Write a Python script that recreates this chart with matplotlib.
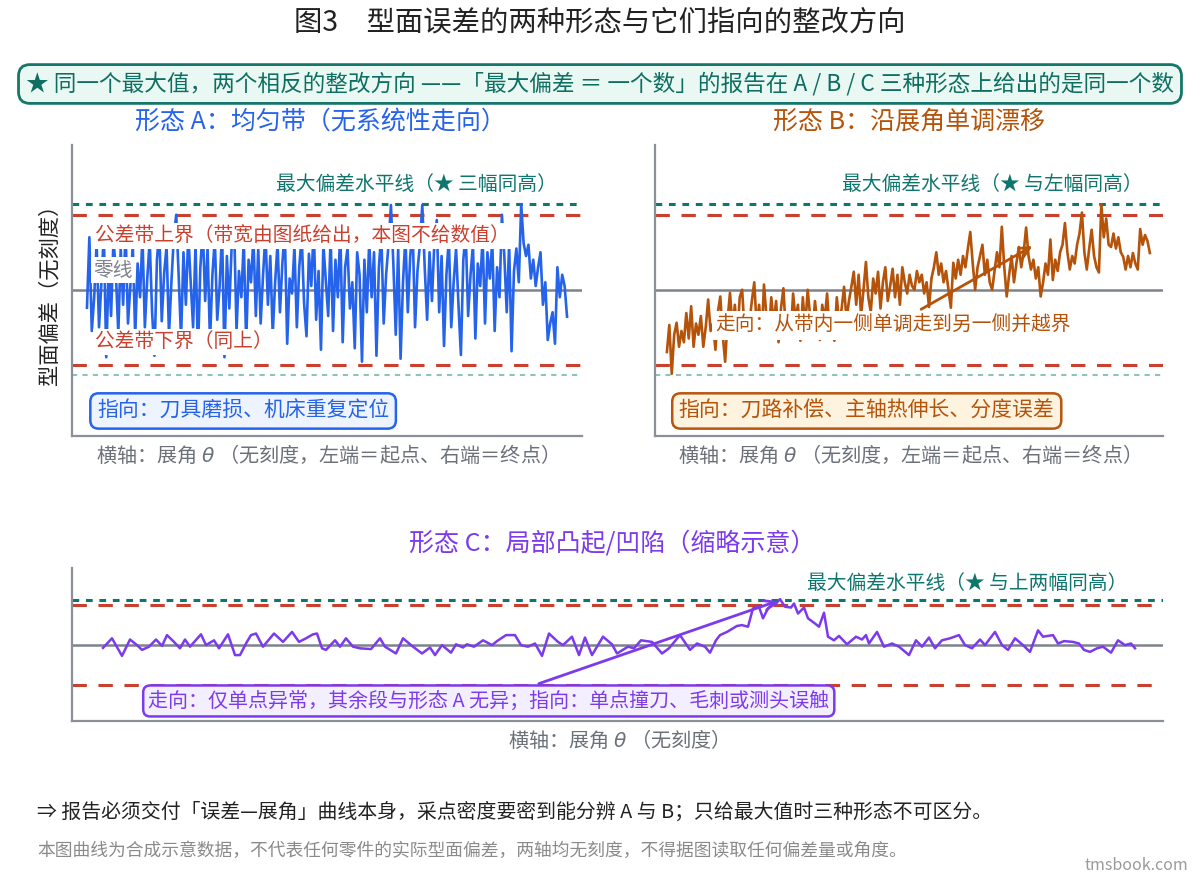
import matplotlib
matplotlib.use("Agg")
import matplotlib.pyplot as plt

plt.rcParams['font.family'] = ['Noto Sans CJK SC', 'DejaVu Sans']
plt.rcParams['mathtext.fontset'] = 'dejavusans'

# ---------------- data (tolerance half-width = 1) ----------------
TOL = 1.0
MAX_DEV = 1.14

form_a = [
    -0.24, 0.7, -0.55, -0.1, 0.62, -0.5, 0.1, 0.75, -0.9, 0.3,
    -0.35, 0.68, 0.2, -0.58, 0.55, -0.2, 0.8, -0.45, 0.05, 0.6,
    -0.62, 0.35, -0.1, 0.72, -0.5, 0.15, 0.66, -0.3, -0.88, 0.4,
    0.78, -0.42, 0.22, 0.58, -0.6, 0.1, 0.7,
    1.0,
    0.2, -0.65, 0.5, -0.2, 0.74, 0.1, -0.5, 0.6, -0.85, 0.3,
    0.82, -0.15, 0.55, -0.7, 0.2, 0.68, -0.4, 0.05, 0.77, -0.9,
    0.45, -0.25, 0.6, 0.85, -0.55, 0.25, -0.1, 0.66, -0.72, 0.4,
    0.1, 0.7, -0.35,
    0.55, -0.45, 0.2, 0.75, -0.2, 0.45, -0.6, 0.1, 0.62, -0.3,
    0.35, 0.8, -0.72, 0.15, -0.05, 0.58, -0.5, 0.3, 0.72, -0.18,
    -0.62, 0.48, 0.05, 0.85, -0.4, 0.25, -0.8, 0.6, 0.12, -0.35,
    0.7, -0.55, 0.4, -0.1, 0.8, -0.7, 0.3, 0.55, -0.25, 0.1,
    -0.78, 0.5,
    0.2, -0.96, 0.4, -0.3, 0.65, -0.1, 0.5, -0.88, 0.3, 0.75,
    -0.45, 0.2, 0.6, 1.13, 0.35, -0.6, 0.55, -0.92, 0.1, 0.7,
    -0.3, 0.45, 0.8, -0.5, 0.25, 0.6, 1.13, 0.3,
    -0.4, 0.5, -0.15, 0.62, 0.93, -0.3, 0.45, -0.75, 0.2, 0.68,
    -0.5, 0.1, 0.55, -0.2, -0.87, 0.4, 0.75, -0.35, 0.2, 0.6,
    -0.65, 0.35, 0.05, 0.7, -0.45, 0.5, 0.15, 0.65, -0.55, 0.3,
    -0.1, 1.0, 0.45, -0.3, 0.6, -0.82, 0.25, 0.55, 0.1, 1.14,
    0.62, 0.45, 0.6, 0.15, 0.4, 0.05, 0.3, 0.5, -0.2, 0.1,
    -0.67, -0.45, -0.3, -0.72, 0.3, -0.1, 0.2, 0.05, -0.36,
]

form_b = [
    -0.83, -0.47, -1.12, -0.6, -0.44, -0.76, -0.55, -0.7, -0.31, -0.65,
    -0.22, -0.76, -0.45, -0.6, -0.35, -0.76, -0.5, -0.13, -0.55,
    -0.45, -0.8, -0.3, -0.09, -0.6, -0.96, -0.4, -0.04, -0.5, -0.2,
    -0.65, -0.1, 0.0, -0.55, -0.3, -0.45, -0.15,
    0.1, -0.5, -0.2, -0.65, 0.07, -0.35, -0.6, -0.1, -0.45, -0.15,
    -0.7, -0.25, 0.02, -0.55, -0.3, -0.62, -0.05, -0.4, -0.2, -0.68,
    -0.1, -0.5, 0.0, -0.35, -0.6, -0.15, -0.45, -0.67, -0.2, -0.4,
    -0.05, -0.55, -0.3, -0.68, -0.1, -0.45, -0.25, 0.04, -0.4, -0.15,
    0.04, 0.24, -0.2, 0.2, -0.35, 0.0, 0.37, -0.1, -0.3, 0.15,
    -0.05, 0.24, -0.25, 0.1, 0.3, -0.15, 0.05, 0.28, -0.1, 0.2, -0.2,
    0.3, 0.1, -0.05, 0.2, 0.05, 0.0, 0.25, 0.1, 0.2, -0.05,
    0.1, -0.23, 0.15, 0.3, 0.5, 0.2, 0.35, 0.1, 0.25, 0.0,
    -0.24, 0.36, 0.15, 0.4, 0.2, 0.45, 0.3, 0.55, 0.77, 0.35,
    0.0, 0.3, 0.45, 0.6, 0.2, 0.4, 0.1, 0.0, 0.25, 0.5, 0.3,
    0.84, 0.3, -0.09, 0.2, 0.45, 0.1, 0.35, 0.57, 0.3, 0.5,
    0.83, 0.45, 0.27, 0.4, 0.15, 0.3, -0.09, 0.1, 0.35, 0.2,
    0.67, 0.13, 0.4, 0.25, 0.5, 0.6, 0.89, 0.5, 0.27, 0.45,
    0.35, 0.6, 0.75, 1.03, 0.5, 0.27, 0.55, 0.8, 0.45, 0.3,
    0.23, 1.14, 0.7, 0.95, 0.6, 0.57, 0.75, 0.55, 0.7, 0.5,
    0.44, 0.27, 0.45, 0.3, 0.49, 0.35, 0.27, 0.81, 0.6, 0.73,
    0.65, 0.49,
]

theta_c = [
    1, 10, 20, 28, 35, 40, 47, 54, 60, 65, 72, 78, 83, 88, 99, 104, 112, 117,
    126, 133, 138, 144, 149, 154, 161, 172, 181, 190, 197, 204, 211, 215, 220,
    224, 233, 238, 244, 251, 258, 269, 278, 283, 294, 301, 310, 320, 328, 333,
    340, 349, 354, 361, 365, 372, 381, 390, 395, 404, 413, 419, 426, 433, 440,
    447, 456, 461, 470, 477, 483, 490, 501, 510, 515, 526, 532, 539, 550, 560,
    567, 573, 578, 588, 595, 603, 608, 614, 618, 625, 635, 640, 646, 651, 657,
    661, 666, 674, 678, 683, 689, 692, 696, 702, 706, 713, 717, 722, 726, 732,
    737, 745, 754, 760, 764, 767, 775, 782, 790, 797, 807, 814, 820, 827, 833,
    840, 848, 857, 863, 870, 878, 883, 893, 900, 906, 913, 921, 928, 936, 941,
    951, 956, 962, 971, 977, 982, 988, 995, 1001, 1009, 1016, 1023, 1029, 1033,
]
form_c = [
    -0.07, 0.17, -0.27, 0.14, 0.0, -0.12, -0.04, 0.14, -0.02, 0.25, 0.08, -0.08,
    0.14, -0.04, 0.27, 0.0, 0.12, -0.08, 0.27, -0.25, -0.25, 0.04, 0.25, 0.29,
    -0.04, 0.29, 0.08, 0.33, 0.08, 0.17, 0.27, 0.29, -0.08, -0.12, 0.12, -0.04,
    0.17, -0.04, -0.08, -0.1, 0.17, -0.04, -0.21, 0.17, -0.02, -0.21, -0.06,
    -0.25, 0.0, -0.19, 0.02, -0.06, 0.02, -0.04, 0.12, 0.0, 0.1, 0.25, 0.25,
    0.0, -0.04, 0.04, -0.27, 0.29, 0.08, 0.0, 0.21, -0.25, 0.19, -0.25, 0.21,
    0.02, -0.21, -0.04, -0.08, 0.12, 0.08, -0.21, -0.08, 0.1, 0.25, -0.12,
    0.04, -0.04, -0.19, 0.12, 0.25, 0.33, 0.48, 0.5, 0.46, 0.92, 0.96, 0.67,
    0.92, 1.04, 1.15, 0.96, 0.94, 1.04, 0.79, 0.94, 0.67, 0.54, 0.46, 0.81,
    0.21, 0.12, 0.23, 0.02, 0.21, 0.14, 0.25, 0.04, 0.33, -0.04, 0.04, -0.04,
    -0.25, 0.12, -0.04, 0.19, -0.08, 0.12, 0.17, 0.25, 0.0, -0.08, 0.14, 0.0,
    0.33, 0.0, -0.12, 0.17, 0.0, -0.17, 0.37, 0.21, 0.25, 0.04, 0.1, 0.08,
    0.04, -0.12, -0.17, -0.08, -0.04, -0.19, 0.12, 0.0, 0.04, -0.08,
]

# annotation targets (data units)
B_ARROW_TARGET = (151.6, 0.60)
C_ARROW_TARGET = (678, 1.125)

# ---------------- texts ----------------
TITLE = '图3　型面误差的两种形态与它们指向的整改方向'
BANNER = '★ 同一个最大值，两个相反的整改方向 ——「最大偏差 ＝ 一个数」的报告在 A / B / C 三种形态上给出的是同一个数'
TITLE_A = '形态 A：均匀带（无系统性走向）'
TITLE_B = '形态 B：沿展角单调漂移'
TITLE_C = '形态 C：局部凸起/凹陷（缩略示意）'
MAXLBL_A = '最大偏差水平线（★ 三幅同高）'
MAXLBL_B = '最大偏差水平线（★ 与左幅同高）'
MAXLBL_C = '最大偏差水平线（★ 与上两幅同高）'
UPPER_LBL = '公差带上界（带宽由图纸给出，本图不给数值）'
LOWER_LBL = '公差带下界（同上）'
ZERO_LBL = '零线'
POINT_A = '指向：刀具磨损、机床重复定位'
POINT_B = '指向：刀路补偿、主轴热伸长、分度误差'
TREND_B = '走向：从带内一侧单调走到另一侧并越界'
NOTE_C = '走向：仅单点异常，其余段与形态 A 无异；指向：单点撞刀、毛刺或测头误触'
XLAB_AB = '横轴：展角 $\\theta$ （无刻度，左端＝起点、右端＝终点）'
XLAB_C = '横轴：展角 $\\theta$ （无刻度）'
YLAB = '型面偏差（无刻度）'
CONCLUSION = '⇒ 报告必须交付「误差—展角」曲线本身，采点密度要密到能分辨 A 与 B；只给最大值时三种形态不可区分。'
FOOTNOTE = '本图曲线为合成示意数据，不代表任何零件的实际型面偏差，两轴均无刻度，不得据图读取任何偏差量或角度。'
SOURCE = 'tmsbook.com'

# ---------------- colours ----------------
BLUE = '#2563eb'
ORANGE = '#b45309'
PURPLE = '#7c3aed'
TEAL = '#0f766e'
TEAL_LIGHT = '#8cc4bb'
RED = '#c9402f'
ZERO = '#7d828c'
SPINE = '#8a8f99'
GRAY_TXT = '#6b7079'

LBL_FS = 14.2

W, H = 1200, 880
fig = plt.figure(figsize=(W / 100, H / 100), dpi=100)
fig.patch.set_facecolor('white')


def px_axes(l, t, r, b):
    return fig.add_axes([l / W, 1 - b / H, (r - l) / W, (b - t) / H])


def style(ax, xlim, ylim):
    ax.set_xlim(*xlim)
    ax.set_ylim(*ylim)
    for s in ('top', 'right'):
        ax.spines[s].set_visible(False)
    for s in ('left', 'bottom'):
        ax.spines[s].set_color(SPINE)
        ax.spines[s].set_linewidth(1.6)
    ax.set_xticks([])
    ax.set_yticks([])
    ax.axhline(0, color=ZERO, lw=1.8, zorder=1)
    ax.axhline(TOL, color=RED, lw=2.2, ls=(0, (4.7, 3.8)), zorder=1)
    ax.axhline(-TOL, color=RED, lw=2.2, ls=(0, (4.7, 3.8)), zorder=1)
    ax.axhline(MAX_DEV, color=TEAL, lw=2.2, ls=(0, (2.2, 2.2)), zorder=1)


axA = px_axes(72, 145, 582, 436)
axB = px_axes(655, 145, 1163, 436)
axC = px_axes(72, 568, 1163, 721)

style(axA, (-6.2, len(form_a) - 1 + 6.2), (-1.95, 1.93))
style(axB, (-4.9, len(form_b) - 1 + 5.4), (-1.95, 1.93))
style(axC, (-30, 1061), (-1.9, 1.93))
for ax in (axA, axB):
    ax.axhline(-MAX_DEV, color=TEAL_LIGHT, lw=1.5, ls=(0, (2.5, 2.5)), zorder=1)

axA.plot(range(len(form_a)), form_a, color=BLUE, lw=1.9, zorder=3)
axB.plot(range(len(form_b)), form_b, color=ORANGE, lw=1.9, zorder=3)
axC.plot(theta_c, form_c, color=PURPLE, lw=1.8, zorder=3)

white_box = dict(boxstyle='square,pad=0.12', fc='white', ec='none')

# panel A labels
axA.text(0.95, 0.863, MAXLBL_A, transform=axA.transAxes, ha='right', va='center',
         color=TEAL, fontsize=LBL_FS, zorder=6)
axA.text(0.045, 0.687, UPPER_LBL, transform=axA.transAxes, ha='left', va='center',
         color=RED, fontsize=LBL_FS, bbox=white_box, zorder=6)
axA.text(0.041, 0.570, ZERO_LBL, transform=axA.transAxes, ha='left', va='center',
         color=ZERO, fontsize=LBL_FS, bbox=white_box, zorder=6)
axA.text(0.045, 0.323, LOWER_LBL, transform=axA.transAxes, ha='left', va='center',
         color=RED, fontsize=LBL_FS, bbox=white_box, zorder=6)
axA.text(0.049, 0.086, POINT_A, transform=axA.transAxes, ha='left', va='center',
         color=BLUE, fontsize=15, zorder=6,
         bbox=dict(boxstyle='round,pad=0.32,rounding_size=0.4', fc='#eef4ff', ec=BLUE, lw=1.8))

# panel B labels
axB.text(0.959, 0.863, MAXLBL_B, transform=axB.transAxes, ha='right', va='center',
         color=TEAL, fontsize=LBL_FS, zorder=6)
axB.annotate(TREND_B, xy=B_ARROW_TARGET, xycoords='data',
             xytext=(0.469, 0.381), textcoords='axes fraction',
             ha='center', va='center', color=ORANGE, fontsize=LBL_FS, zorder=6,
             bbox=dict(boxstyle='square,pad=0.2', fc='white', ec='none'),
             arrowprops=dict(arrowstyle='->', color=ORANGE, lw=2, mutation_scale=18))
axB.text(0.047, 0.086, POINT_B, transform=axB.transAxes, ha='left', va='center',
         color=ORANGE, fontsize=15, zorder=6,
         bbox=dict(boxstyle='round,pad=0.32,rounding_size=0.4', fc='#fdf3df', ec='#b8560f', lw=1.8))

# panel C labels
axC.text(0.967, 0.902, MAXLBL_C, transform=axC.transAxes, ha='right', va='center',
         color=TEAL, fontsize=LBL_FS, zorder=6)
axC.annotate(NOTE_C, xy=C_ARROW_TARGET, xycoords='data',
             xytext=(0.382, 0.131), textcoords='axes fraction',
             ha='center', va='center', color=PURPLE, fontsize=14.4, zorder=6,
             bbox=dict(boxstyle='round,pad=0.25,rounding_size=0.35', fc='#f3efff', ec=PURPLE, lw=1.8),
             arrowprops=dict(arrowstyle='->', color=PURPLE, lw=2, mutation_scale=18))

# figure-level texts
fig.text(0.5, 1 - 22 / H, TITLE, ha='center', va='center', fontsize=20.4, color='#222222')
fig.text(0.5, 1 - 84 / H, BANNER, ha='center', va='center', fontsize=16.3, color='#0f6e62',
         bbox=dict(boxstyle='round,pad=0.33,rounding_size=0.5', fc='#e9f8f2', ec='#17766a', lw=2))
fig.text(320 / W, 1 - 122 / H, TITLE_A, ha='center', va='center', fontsize=18, color=BLUE)
fig.text(909 / W, 1 - 122 / H, TITLE_B, ha='center', va='center', fontsize=18, color=ORANGE)
fig.text(612 / W, 1 - 543 / H, TITLE_C, ha='center', va='center', fontsize=18, color=PURPLE)
fig.text(50 / W, 1 - 289 / H, YLAB, rotation=90, ha='center', va='center', fontsize=15.3,
         color='#222222')
fig.text(322 / W, 1 - 455 / H, XLAB_AB, ha='center', va='center', fontsize=14.5, color=GRAY_TXT)
fig.text(904 / W, 1 - 455 / H, XLAB_AB, ha='center', va='center', fontsize=14.5, color=GRAY_TXT)
fig.text(613 / W, 1 - 740 / H, XLAB_C, ha='center', va='center', fontsize=14.5, color=GRAY_TXT)
fig.text(37 / W, 1 - 812 / H, CONCLUSION, ha='left', va='center', fontsize=14.3, color='#222222')
fig.text(37 / W, 1 - 851 / H, FOOTNOTE, ha='left', va='center', fontsize=12.8, color='#8a8a8a')
fig.text(1188 / W, 1 - 865 / H, SOURCE, ha='right', va='center', fontsize=11.5, color='#9a9a9a')

fig.savefig('out.png', dpi=100, facecolor='white')
